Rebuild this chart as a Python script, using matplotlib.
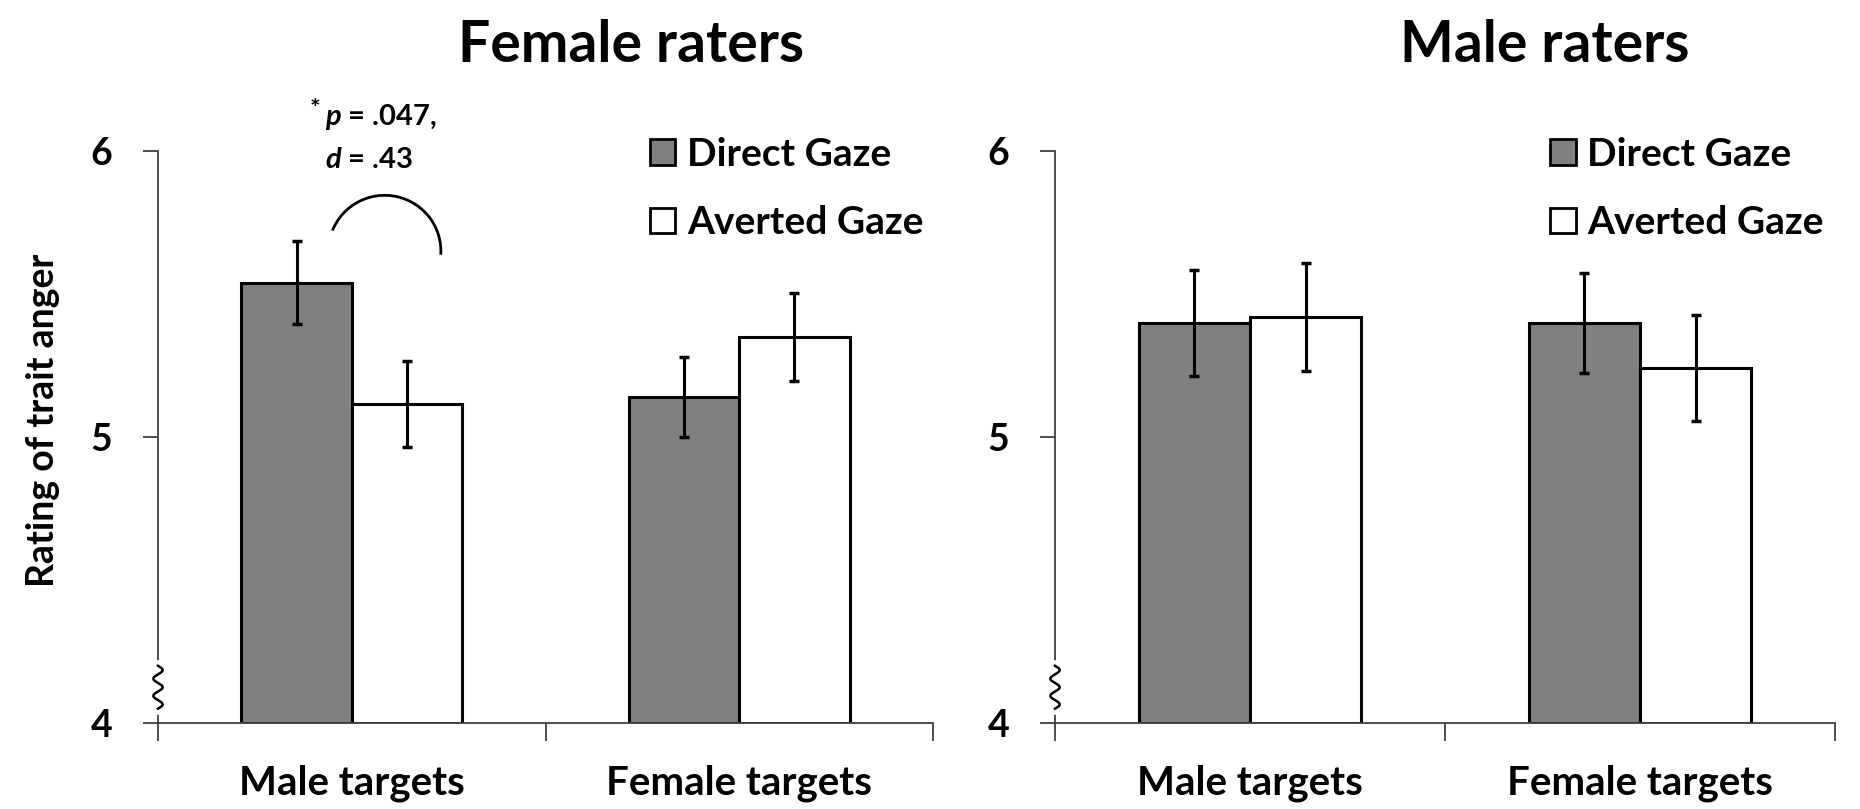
import numpy as np
import matplotlib
matplotlib.use("Agg")
import matplotlib.pyplot as plt
from matplotlib.patches import Rectangle, Arc

plt.rcParams['font.family'] = ['Lato', 'DejaVu Sans']
plt.rcParams['font.weight'] = 'bold'
plt.rcParams['mathtext.fontset'] = 'custom'
plt.rcParams['mathtext.rm'] = 'Lato:bold'
plt.rcParams['mathtext.it'] = 'Lato:italic:bold'
plt.rcParams['mathtext.bf'] = 'Lato:bold'
plt.rcParams['mathtext.bfit'] = 'Lato:bold:italic'

# data
targets = ['Male targets', 'Female targets']
conditions = ['Direct Gaze', 'Averted Gaze']
panels = ['Female raters', 'Male raters']

female_direct = [5.54, 5.14]
female_averted = [5.115, 5.35]
female_direct_se = [0.145, 0.14]
female_averted_se = [0.15, 0.155]

male_direct = [5.40, 5.40]
male_averted = [5.42, 5.24]
male_direct_se = [0.185, 0.175]
male_averted_se = [0.19, 0.185]

yticks = [4, 5, 6]

W, H = 1860, 809
fig = plt.figure(figsize=(W / 100, H / 100), dpi=100)

bar_color = '#808080'
spine_color = '#404040'
bw = 0.285


def px_axes(x0, x1, y0=151, y1=723):
    return fig.add_axes([x0 / W, 1 - y1 / H, (x1 - x0) / W, (y1 - y0) / H])


def draw_panel(ax, direct, averted, d_se, a_se):
    x = np.arange(len(targets)) + 0.5
    ax.bar(x - bw / 2, np.array(direct) - 4, bw, bottom=4, color=bar_color,
           edgecolor='black', linewidth=2.2, zorder=2)
    ax.bar(x + bw / 2, np.array(averted) - 4, bw, bottom=4, color='white',
           edgecolor='black', linewidth=2.2, zorder=2)
    for xs, ys, es in [(x - bw / 2, direct, d_se), (x + bw / 2, averted, a_se)]:
        ax.errorbar(xs, ys, yerr=es, fmt='none', ecolor='black', elinewidth=2.2,
                    capsize=3.5, capthick=2.5, zorder=3)

    ax.set_xlim(0, 2)
    ax.set_ylim(4, 6)
    ax.set_yticks(yticks)
    ax.set_yticklabels([str(t) for t in yticks], fontsize=27, fontweight='bold')
    ax.set_xticks([0, 1, 2], minor=False)
    ax.set_xticklabels([])
    ax.set_xticks(x, minor=True)
    ax.set_xticklabels(targets, minor=True, fontsize=29, fontweight='bold')
    ax.tick_params(axis='x', which='major', length=13, width=1.3, color=spine_color, direction='out')
    ax.tick_params(axis='x', which='minor', length=0, pad=30)
    ax.tick_params(axis='y', length=11, width=1.3, color=spine_color, pad=22)
    for s in ['top', 'right']:
        ax.spines[s].set_visible(False)
    for s in ['left', 'bottom']:
        ax.spines[s].set_color(spine_color)
        ax.spines[s].set_linewidth(1.3)

    # axis break squiggle
    yb = np.linspace(4.05, 4.2, 200)
    xb = 0.012 * np.sin((yb - 4.05) / 0.15 * 2.5 * 2 * np.pi)
    ax.plot([0, 0], [4.04, 4.21], color='white', lw=4, clip_on=False, zorder=4)
    ax.plot(xb, yb, color='black', lw=1.8, clip_on=False, zorder=5)

    handles = [Rectangle((0, 0), 1, 1, facecolor=bar_color, edgecolor='black', linewidth=2),
               Rectangle((0, 0), 1, 1, facecolor='white', edgecolor='black', linewidth=2)]
    ax.legend(handles, conditions, loc='upper left', bbox_to_anchor=(0.635, 1.025),
              frameon=False, handlelength=0.65, handleheight=0.65,
              handletextpad=0.3, labelspacing=0.86, borderpad=0, borderaxespad=0,
              prop={'weight': 'bold', 'size': 28})


ax1 = px_axes(158, 933)
draw_panel(ax1, female_direct, female_averted, female_direct_se, female_averted_se)
ax2 = px_axes(1055, 1835)
draw_panel(ax2, male_direct, male_averted, male_direct_se, male_averted_se)

fig.text(458 / W, 1 - 62 / H, panels[0], fontsize=41, fontweight='bold', va='baseline', ha='left')
fig.text(1400 / W, 1 - 62 / H, panels[1], fontsize=41, fontweight='bold', va='baseline', ha='left')

fig.text(43 / W, 1 - 420 / H, 'Rating of trait anger', rotation=90, fontsize=27,
         fontweight='bold', ha='center', va='center')

# significance annotation
ax1.text(0.42, 6.12, '*', fontsize=18, fontweight='bold', ha='right', va='baseline')
ax1.text(0.431, 6.09, r'$\mathbfit{p}$ = .047,', fontsize=21, fontweight='bold', ha='left', va='baseline')
ax1.text(0.431, 5.94, r'$\mathbfit{d}$ = .43', fontsize=21, fontweight='bold', ha='left', va='baseline')
ax1.add_patch(Arc((0.585, 5.65), 0.29, 0.39, theta1=-5, theta2=152, color='black', lw=2))

fig.savefig('out.png', dpi=100)
